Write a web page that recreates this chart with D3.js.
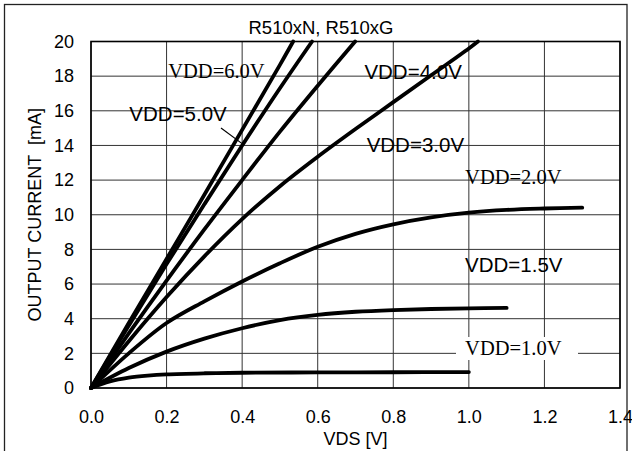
<!DOCTYPE html>
<html><head><meta charset="utf-8">
<script src="https://cdn.jsdelivr.net/npm/d3@7"></script>
<style>html,body{margin:0;padding:0;background:#fff;}svg{display:block;}</style>
</head><body>
<script>
// ---- data ----
const title = "R510xN, R510xG";
const xLabel = "VDS [V]";
const yLabel = "OUTPUT CURRENT  [mA]";
const xTicks = [0, 0.2, 0.4, 0.6, 0.8, 1.0, 1.2, 1.4];
const yTicks = [0, 2, 4, 6, 8, 10, 12, 14, 16, 18, 20];

const vdd10x = [0, 0.05, 0.1, 0.15, 0.2, 0.3, 0.4, 0.6, 0.8, 1.0];
const vdd10y = [0, 0.38, 0.6, 0.72, 0.79, 0.85, 0.88, 0.9, 0.91, 0.92];
const vdd15x = [0, 0.1, 0.2, 0.3, 0.4, 0.5, 0.6, 0.7, 0.8, 0.9, 1.0, 1.1];
const vdd15y = [0, 1.15, 2.1, 2.85, 3.45, 3.92, 4.22, 4.4, 4.5, 4.56, 4.6, 4.62];
const vdd20x = [0, 0.1, 0.2, 0.3, 0.4, 0.5, 0.6, 0.7, 0.8, 0.9, 1.0, 1.1, 1.2, 1.3];
const vdd20y = [0, 2.0, 3.75, 5.0, 6.15, 7.2, 8.15, 8.9, 9.45, 9.85, 10.12, 10.28, 10.36, 10.41];
const vdd30x = [0, 0.1, 0.2, 0.3, 0.4, 0.5, 0.6, 0.7, 0.8, 0.9, 1.0, 1.024];
const vdd30y = [0, 2.7, 5.25, 7.6, 9.75, 11.65, 13.35, 14.95, 16.5, 18.05, 19.6, 20];
const vdd40x = [0, 0.1, 0.2, 0.3, 0.4, 0.5, 0.6, 0.699];
const vdd40y = [0, 3.15, 6.2, 9.15, 12.0, 14.8, 17.45, 20];
const vdd50x = [0, 0.1, 0.2, 0.3, 0.4, 0.5, 0.585];
const vdd50y = [0, 3.6, 7.15, 10.6, 14.0, 17.3, 20];
const vdd60x = [0, 0.1, 0.2, 0.3, 0.4, 0.5, 0.535];
const vdd60y = [0, 3.75, 7.45, 11.15, 14.9, 18.65, 20];

const seriesNames = ["VDD=1.0V", "VDD=1.5V", "VDD=2.0V", "VDD=3.0V", "VDD=4.0V", "VDD=5.0V", "VDD=6.0V"];
const seriesX = [vdd10x, vdd15x, vdd20x, vdd30x, vdd40x, vdd50x, vdd60x];
const seriesY = [vdd10y, vdd15y, vdd20y, vdd30y, vdd40y, vdd50y, vdd60y];
// label anchor positions in data units (left x, baseline y)
const labelX = [0.99, 0.99, 0.99, 0.7295, 0.7235, 0.1015, 0.2045];
const labelY = [1.91, 6.72, 11.78, 13.63, 17.82, 15.44, 17.88];
const labelSerif = [true, false, true, false, false, false, true];
// leader line for VDD=5.0V (data units)
const leaderX = [0.344, 0.399];
const leaderY = [15.01, 14.12];

// ---- drawing ----
const W = 632, H = 451;
const L = 91, R = 620, T = 41.5, B = 388;
const svg = d3.select("body").append("svg").attr("width", W).attr("height", H);

const x = d3.scaleLinear().domain([0, 1.4]).range([L, R]);
const y = d3.scaleLinear().domain([0, 20]).range([B, T]);

// outer frame
svg.append("rect").attr("x", 4.5).attr("y", 4.5).attr("width", 622.5).attr("height", 460)
  .attr("fill", "none").attr("stroke", "#222").attr("stroke-width", 1.3);

// grid
const g = svg.append("g");
g.selectAll("line.v").data(xTicks).join("line")
  .attr("x1", d => x(d)).attr("x2", d => x(d)).attr("y1", T).attr("y2", B)
  .attr("stroke", "#333").attr("stroke-width", 1);
g.selectAll("line.h").data(yTicks).join("line")
  .attr("x1", L).attr("x2", R).attr("y1", d => y(d)).attr("y2", d => y(d))
  .attr("stroke", "#333").attr("stroke-width", 1);

// axes (labels only)
const xAxis = d3.axisBottom(x).tickValues(xTicks).tickFormat(d3.format(".1f")).tickSize(0).tickPadding(22);
const yAxis = d3.axisLeft(y).tickValues(yTicks).tickFormat(d3.format("d")).tickSize(0).tickPadding(17);
const gx = svg.append("g").attr("transform", `translate(0,${B})`).call(xAxis);
const gy = svg.append("g").attr("transform", `translate(${L},0)`).call(yAxis);
[gx, gy].forEach(a => {
  a.select(".domain").remove();
  a.selectAll("text").attr("font-family", "Liberation Sans, Arial, sans-serif").attr("font-size", 18).attr("fill", "#000");
});

// white box behind VDD=1.0V label
svg.append("rect").attr("x", 456).attr("y", 337).attr("width", 122).attr("height", 23).attr("fill", "#fff");

// curves
const line = d3.line().x(d => x(d[0])).y(d => y(d[1])).curve(d3.curveCatmullRom.alpha(0.5));
seriesX.forEach((xs, i) => {
  const pts = xs.map((v, j) => [v, seriesY[i][j]]);
  svg.append("path").datum(pts).attr("d", line)
    .attr("fill", "none").attr("stroke", "#000").attr("stroke-width", 3.8)
    .attr("stroke-linecap", "round").attr("stroke-linejoin", "round");
});

// plot border
svg.append("rect").attr("x", L).attr("y", T).attr("width", R - L).attr("height", B - T)
  .attr("fill", "none").attr("stroke", "#000").attr("stroke-width", 1.6);

// leader
svg.append("line").attr("x1", x(leaderX[0])).attr("y1", y(leaderY[0]))
  .attr("x2", x(leaderX[1])).attr("y2", y(leaderY[1])).attr("stroke", "#000").attr("stroke-width", 1.2);

// series labels
seriesNames.forEach((n, i) => {
  svg.append("text").attr("x", x(labelX[i])).attr("y", y(labelY[i]))
    .attr("font-family", labelSerif[i] ? "Liberation Serif, Times New Roman, serif" : "Liberation Sans, Arial, sans-serif")
    .attr("font-size", 20.5)
    .attr("fill", "#000").text(n);
});

// title
svg.append("text").attr("x", 321).attr("y", 34).attr("text-anchor", "middle")
  .attr("font-family", "Liberation Sans, Arial, sans-serif").attr("font-size", 18.5).text(title);

// axis titles
svg.append("text").attr("x", (L + R) / 2).attr("y", 445).attr("text-anchor", "middle")
  .attr("font-family", "Liberation Sans, Arial, sans-serif").attr("font-size", 18).text(xLabel);
svg.append("text").attr("transform", `translate(41,${(T + B) / 2}) rotate(-90)`).attr("text-anchor", "middle")
  .style("white-space", "pre")
  .attr("font-family", "Liberation Sans, Arial, sans-serif").attr("font-size", 18).text(yLabel);
</script>
</body></html>
